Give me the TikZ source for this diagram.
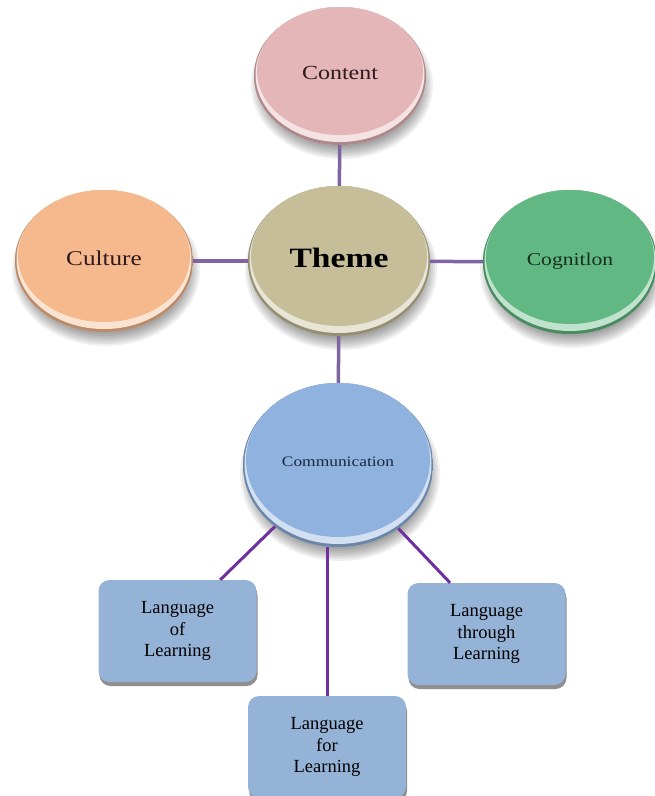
\documentclass[tikz,border=0pt]{standalone}
\usepackage{graphicx}
\usepackage{fontspec}
\setmainfont{Liberation Serif}
\usetikzlibrary{shapes.geometric,shadows,calc}
\definecolor{cContent}{HTML}{E5B6B8}
\definecolor{cTheme}{HTML}{C5BE98}
\definecolor{cCulture}{HTML}{F5B98D}
\definecolor{cCognition}{HTML}{62B882}
\definecolor{cComm}{HTML}{8FB2DE}
\definecolor{cBox}{HTML}{95B3D7}
\definecolor{upLine}{HTML}{8064A2}
\definecolor{lowLine}{HTML}{7030A0}
\definecolor{tContent}{HTML}{2E1A1E}
\definecolor{tCognition}{HTML}{15301F}
\definecolor{tComm}{HTML}{1A2840}
% name, x, y, width, height, fill, text colour, text
\newcommand\mydisc[8]{%
  \foreach \k in {0,...,7}
    \fill[black,opacity=0.06] (#2+2,#3+9) ellipse [x radius=#4/2-9+2*\k, y radius=#5/2-9+2*\k];
  \node[ellipse, inner sep=0pt, minimum width=#4pt, minimum height=#5pt, fill=#6,
    path picture={
      \fill[#6!75!black] (path picture bounding box.south west) rectangle (path picture bounding box.north east);
      \fill[#6!40!white] ([yshift=1.5pt]path picture bounding box.center) ellipse [x radius=#4/2-1.5, y radius=#5/2-1.5];
      \fill[#6] ([yshift=5pt]path picture bounding box.center) ellipse [x radius=#4/2-3, y radius=#5/2-5];
    }, text=#7] (#1) at (#2,#3) {\raisebox{6pt}{#8}};%
}
\begin{document}
\begin{tikzpicture}[x=1pt,y=-1pt,
  upline/.style={draw=upLine, line width=3.5pt},
  lowline/.style={draw=lowLine, line width=3pt},
  lbox/.style={rectangle, rounded corners=11pt, fill=cBox, minimum width=158pt, minimum height=102pt,
    align=center, inner sep=2pt, font=\fontsize{18.5}{21.7}\selectfont,
    drop shadow={shadow xshift=1pt, shadow yshift=-4pt, fill=black!55, opacity=0.8}}
]
\useasboundingbox (0,0) rectangle (654,796);
\fill[white] (0,0) rectangle (654,796);

\mydisc{content}{340}{76}{172}{138}{cContent}{tContent}{\fontsize{20}{24}\selectfont\scalebox{1.2}[1]{Content}}
\mydisc{theme}{339}{261}{182}{150}{cTheme}{black}{\fontsize{28}{32}\selectfont\bfseries\scalebox{1.2}[1]{Theme}}
\mydisc{culture}{104}{261}{178}{142}{cCulture}{tContent}{\fontsize{21}{24}\selectfont\scalebox{1.2}[1]{Culture}}
\mydisc{cognition}{570}{262}{174}{144}{cCognition}{tCognition}{\fontsize{18}{22}\selectfont\scalebox{1.2}[1]{Cognitlon}}
\mydisc{comm}{338}{465}{190}{164}{cComm}{tComm}{\fontsize{14.5}{18}\selectfont\scalebox{1.2}[1]{Communication}}

\node[lbox] (lol) at (177.5,631) {Language\\of\\Learning};
\node[lbox] (ltl) at (486.5,634) {Language\\through\\Learning};
\node[lbox] (lfl) at (327,747) {Language\\for\\Learning};

\draw[upline] (content) -- (theme);
\draw[upline] (culture) -- (theme);
\draw[upline] (theme) -- (cognition);
\draw[upline] (theme) -- (comm);

\coordinate (lolT) at ($(lol.north west)!0.77!(lol.north east)$);
\coordinate (ltlT) at ($(ltl.north west)!0.27!(ltl.north east)$);
\draw[lowline] (comm) -- (lolT);
\draw[lowline] (comm) -- (ltlT);
\draw[lowline] (lfl.north) -- (lfl.north |- comm.south);
\end{tikzpicture}
\end{document}
